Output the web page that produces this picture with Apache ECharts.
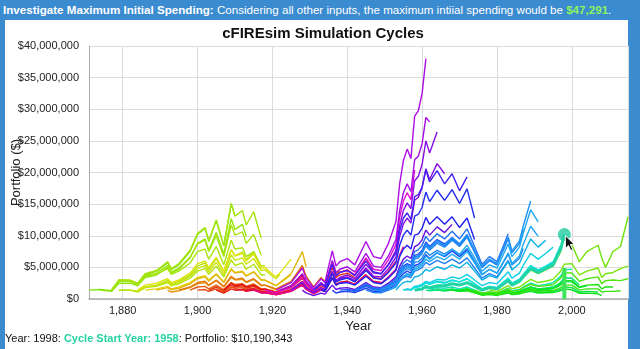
<!DOCTYPE html>
<html>
<head>
<meta charset="utf-8">
<script src="https://cdn.jsdelivr.net/npm/echarts@6/dist/echarts.min.js"></script>
<style>
html,body{margin:0;padding:0;width:640px;height:349px;overflow:hidden;background:#3b8bd0;font-family:"Liberation Sans",Arial,Helvetica,sans-serif;}
#head{position:absolute;left:3px;top:3px;font-size:11.6px;color:#fff;white-space:nowrap;}
#head .amt{color:#8df25c;font-weight:bold}
#panel{position:absolute;left:5px;top:20px;width:623px;height:329px;background:#fff;}
#chart{position:absolute;left:0;top:0;width:640px;height:349px;}
#foot{position:absolute;left:5px;top:332px;font-size:11px;color:#111;white-space:nowrap;}
#foot b{color:#25d3a2}
</style>
</head>
<body>
<div id="head"><b>Investigate Maximum Initial Spending:</b> Considering all other inputs, the maximum intiial spending would be <span class="amt">$47,291</span>.</div>
<div id="panel"></div>
<div id="chart"></div>
<div id="foot">Year: 1998: <b>Cycle Start Year: 1958</b>: Portfolio: $10,190,343</div>
<script>
// sample years (x), each cycle's values ($ millions) start at its own start year
var sampleYears = [1871,1874,1877,1879,1882,1884,1886,1889,1892,1893,1895,1898,1900,1902,1903,1905,1907,1909,1910,1912,
  1913,1915,1917,1918,1920,1921,1922,1925,1928,1929,1931,1933,1934,1936,1937,1938,1940,1942,1945,1947,
  1949,1951,1953,1954,1955,1956,1957,1958,1959,1960,1961,1962,1964,1966,1968,1970,1972,1974,1976,1978,
  1980,1983,1984,1986,1987,1989,1991,1993,1995,1997,1998,2000,2002,2004,2007,2008,2009,2011,2013,2015];

var c1871 = [1.4,1.5,1.3,2.8,2.9,2.4,3.8,4.4,5.7,4.7,5.4,7.5,10.2,11.2,9.1,12.4,8.4,15.1,13.1];
var c1874 = [1.4,1.2,2.5,2.5,2.1,3.4,3.8,5.0,4.1,4.7,6.5,8.8,9.5,7.7,10.5,7.1,12.7,11.0,11.8,9.9];
var c1877a = [1.4,3.0,3.0,2.5,4.0,4.5,5.9,4.8,5.6,7.7,10.4,11.3,9.2,12.5,8.4,15.0,13.1,14.0,11.7,13.8,9.6];
var c1877b = [1.4,3.0,2.9,2.4,3.7,4.1,5.3,4.3,4.9,6.6,8.7,9.3,7.5,10.0,6.7,11.7,10.1,10.6,8.8,10.2,6.9];
var c1877c = [1.4,2.9,2.8,2.3,3.6,3.9,4.8,3.9,4.4,5.7,7.5,7.9,6.3,8.3,5.4,9.3,7.9,8.1,6.7,7.5,5.0];
var c1879a = [1.4,1.4,1.2,1.9,2.2,2.9,2.4,2.8,3.8,5.2,5.7,4.7,6.4,4.4,7.8,6.8,7.4,6.2,7.4,5.2,5.3];
var c1879b = [1.4,1.4,1.1,1.8,2.0,2.6,2.1,2.4,3.3,4.4,4.8,3.9,5.2,3.5,6.2,5.3,5.7,4.7,5.5,3.8,3.8];
var c1882 = [1.4,1.2,1.9,2.1,2.7,2.2,2.6,3.6,4.8,5.3,4.3,5.8,3.9,7.0,6.1,6.5,5.5,6.4,4.5,4.6,3.6,3.2,3.9];
var c1884 = [1.4,2.2,2.5,3.2,2.6,3.0,4.1,5.6,6.0,4.9,6.6,4.4,7.8,6.8,7.2,6.0,7.1,4.9,5.0,3.9,3.5,4.1,6.3];
var c1886 = [1.4,1.6,2.0,1.6,1.9,2.6,3.4,3.7,3.0,4.0,2.7,4.8,4.2,4.4,3.7,4.3,3.0,3.0,2.4,2.1,2.5,3.8];
var c1889 = [1.4,1.8,1.5,1.7,2.4,3.2,3.5,2.8,3.9,2.6,4.7,4.1,4.3,3.6,4.3,3.0,3.0,2.4,2.1,2.6,4.0,7.5,5.1];
var c1892 = [1.4,1.1,1.3,1.8,2.4,2.6,2.1,2.9,1.9,3.4,3.0,3.1,2.6,3.1,2.1,2.2,1.7,1.5,1.8,2.7,5.1,3.5,1.9];
var c1895 = [1.4,1.9,2.6,2.8,2.2,3.0,2.0,3.6,3.1,3.3,2.7,3.2,2.2,2.2,1.8,1.6,1.9,2.8,5.3,3.6,1.9,3.4,2.8];
var c1898 = [1.4,1.9,2.0,1.6,2.2,1.5,2.6,2.3,2.4,2.0,2.4,1.6,1.6,1.3,1.1,1.4,2.1,3.9,2.6,1.4,2.5,2.0,5.8,3.9,4.5];
var c1900 = [1.4,1.5,1.2,1.6,1.1,1.9,1.7,1.8,1.5,1.7,1.2,1.2,0.95,0.84,1.0,1.5,2.8,1.9,1.0,1.8,1.5,4.2,2.8,3.2,3.4];
var c1903 = [1.4,1.9,1.3,2.2,1.9,2.1,1.7,2.0,1.4,1.4,1.1,1.0,1.2,1.8,3.3,2.3,1.2,2.1,1.8,5.0,3.4,3.8,4.1,3.4];
var c1905 = [1.4,0.93,1.6,1.4,1.5,1.3,1.5,1.0,1.0,0.8,0.7,0.83,1.3,2.3,1.6,0.85,1.5,1.2,3.4,2.3,2.6,2.8,2.3,3.9];
var c1907 = [1.4,2.5,2.1,2.3,1.9,2.2,1.5,1.6,1.2,1.1,1.3,2.0,3.7,2.5,1.4,2.4,1.9,5.5,3.7,4.2,4.6,3.8,6.4,4.6];
var c1910 = [1.4,1.5,1.2,1.4,1.0,1.0,0.8,0.7,0.82,1.2,2.3,1.6,0.85,1.5,1.2,3.4,2.3,2.6,2.8,2.3,3.8,2.8,2.6];
var c1913 = [1.4,1.6,1.1,1.1,0.9,0.8,0.95,1.4,2.7,1.8,1.0,1.7,1.4,4.1,2.7,3.1,3.4,2.8,4.7,3.4,3.2,4.4,6.0];
var c1915 = [1.4,0.96,0.97,0.77,0.67,0.8,1.2,2.2,1.5,0.82,1.4,1.2,3.3,2.2,2.5,2.7,2.3,3.7,2.7,2.5,3.5,4.7,7.0,8.3];
var c1918 = [1.4,1.1,1.0,1.2,1.8,3.4,2.4,1.3,2.3,1.9,5.4,3.7,4.2,4.5,3.8,6.5,4.7,4.5,6.2,8.6,12.9,15.5,16.8,15.7,20.4];
var c1921 = [1.4,1.7,2.6,4.9,3.3,1.8,3.2,2.6,7.6,5.2,5.9,6.4,5.4,9.1,6.7,6.4,8.8,12.2,18.2,21.9,23.7,22.2,28.9,29.8,32.5,38.0];
var c1922 = [1.4,2.1,4.0,2.8,1.5,2.6,2.1,6.1,4.2,4.7,5.1,4.3,7.2,5.2,5.0,6.8,9.4,14.0,16.8,18.2,17.0,22.0,22.6,24.6,28.7,28.0];
var c1925a = [1.4,2.7,1.9,1.0,1.8,1.5,4.4,3.0,3.4,3.8,3.2,5.5,4.1,4.0,5.5,7.7,11.6,14.0,15.2,14.3,18.7,19.4,21.3,25.0,23.1,26.4];
var c1925b = [1.4,2.6,1.8,1.0,1.7,1.4,4.1,2.8,3.2,3.5,2.9,4.9,3.6,3.5,4.8,6.6,9.9,11.9,12.8,12.0,15.6,16.1,17.6,20.6,18.9,21.4,19.8];
var c1928 = [1.4,0.96,0.53,0.92,0.76,2.2,1.5,1.7,1.8,1.5,2.6,1.9,1.8,2.5,3.5,5.2,6.3,6.8,6.4,8.3,8.6,9.4,10.9,10.1,11.4,10.5,11.8];
var c1931 = [1.4,2.4,2.0,5.5,3.7,4.2,4.5,3.7,6.0,4.3,4.0,5.4,7.3,10.8,12.8,13.6,12.6,16.2,16.5,17.7,20.4,18.5,20.3,18.2,19.8,17.1,19.3];
var c1933 = [1.4,1.2,3.3,2.2,2.5,2.6,2.2,3.6,2.6,2.4,3.3,4.5,6.7,7.9,8.5,7.9,10.1,10.3,11.2,12.9,11.8,13.0,11.8,13.0,11.3,12.8,9.4];
var c1934 = [1.4,4.0,2.7,3.0,3.3,2.7,4.5,3.3,3.1,4.2,5.7,8.5,10.1,10.9,10.1,13.1,13.4,14.5,16.9,15.4,17.2,15.6,17.3,15.1,17.4,12.8];
var c1936 = [1.4,0.95,1.1,1.2,1.0,1.7,1.2,1.2,1.6,2.2,3.4,4.0,4.4,4.1,5.3,5.5,6.0,7.0,6.4,7.3,6.7,7.6,6.7,7.8,5.9,3.9];
var c1938 = [1.4,1.5,1.3,2.2,1.6,1.5,2.1,2.9,4.3,5.2,5.6,5.3,6.9,7.1,7.7,9.0,8.3,9.4,8.7,9.7,8.7,10.1,7.6,5.1,6.1];
var c1940 = [1.4,1.2,2.0,1.5,1.4,2.0,2.7,4.1,4.9,5.4,5.0,6.6,6.8,7.4,8.7,8.0,9.1,8.4,9.5,8.5,9.9,7.5,5.0,6.1,5.4];
var c1942 = [1.4,2.4,1.7,1.7,2.3,3.2,4.7,5.7,6.2,5.8,7.5,7.8,8.5,9.9,9.1,10.3,9.5,10.7,9.5,11.1,8.3,5.5,6.7,5.9,10.3];
var c1945 = [1.4,1.0,0.98,1.4,1.9,2.8,3.4,3.6,3.4,4.4,4.6,5.0,5.8,5.4,6.1,5.6,6.3,5.6,6.5,4.9,3.3,4.0,3.5,6.1,4.7];
var c1947a = [1.4,1.3,1.9,2.6,3.9,4.7,5.1,4.8,6.3,6.5,7.2,8.4,7.7,8.8,8.2,9.3,8.3,9.8,7.4,5.0,6.1,5.4,9.5,7.3,8.8,11.1];
var c1947b = [1.4,1.3,1.8,2.5,3.7,4.4,4.8,4.5,5.8,5.9,6.5,7.5,6.9,7.7,7.1,7.9,6.9,8.0,6.0,3.9,4.7,4.1,7.1,5.4,6.4,8.0];
var c1949 = [1.4,2.0,2.7,4.1,4.9,5.3,5.0,6.6,6.8,7.4,8.7,8.1,9.2,8.5,9.7,8.7,10.2,7.7,5.2,6.3,5.6,9.8,7.6,9.2,11.5,15.5];
var c1951a = [1.4,2.0,2.9,3.5,3.9,3.6,4.7,4.9,5.4,6.3,5.9,6.7,6.2,7.1,6.3,7.5,5.7,3.8,4.7,4.1,7.3,5.6,6.8,8.6,11.5,9.9];
var c1951b = [1.4,2.0,3.0,3.6,4.0,3.8,5.0,5.2,5.7,6.8,6.3,7.3,6.8,7.9,7.1,8.5,6.5,4.4,5.4,4.9,8.7,6.7,8.2,10.4,14.1,12.2];
var c1953 = [1.4,2.1,2.6,2.8,2.7,3.5,3.6,4.0,4.7,4.4,5.1,4.7,5.4,4.9,5.8,4.4,3.0,3.7,3.3,5.9,4.6,5.6,7.0,9.5,8.2,9.3];
var c1955a = [1.4,1.5,1.4,1.9,2.0,2.2,2.6,2.4,2.8,2.6,3.0,2.7,3.2,2.4,1.6,2.0,1.8,3.2,2.5,3.1,3.8,5.2,4.5,5.1,5.7];
var c1955b = [1.4,1.6,1.5,2.0,2.1,2.3,2.8,2.6,3.1,3.0,3.5,3.2,3.9,3.0,2.1,2.6,2.4,4.3,3.3,4.1,5.3,7.2,6.3,7.2,8.2];
var c1957 = [1.4,1.8,1.9,2.1,2.5,2.3,2.7,2.5,2.9,2.7,3.2,2.4,1.6,2.0,1.8,3.3,2.5,3.1,3.9,5.3,4.6,5.2,5.9,8.5];
var c1958 = [1.4,1.5,1.6,2.0,1.8,2.1,2.1,2.4,2.2,2.6,2.0,1.4,1.8,1.6,2.9,2.2,2.8,3.5,4.8,4.2,4.8,5.4,7.9,10.19];
var c1959 = [1.4,1.5,1.8,1.6,1.8,1.7,1.9,1.6,1.9,1.4,0.93,1.1,0.98,1.7,1.3,1.5,1.9,2.5,2.1,2.3,2.6,3.6,4.6,4.7];
var c1961 = [1.4,1.3,1.4,1.3,1.4,1.3,1.5,1.1,0.71,0.85,0.74,1.3,0.97,1.1,1.4,1.9,1.6,1.7,1.9,2.6,3.3,3.3];
var c1962 = [1.4,1.6,1.4,1.6,1.4,1.6,1.2,0.76,0.9,0.78,1.3,1.0,1.2,1.5,1.9,1.6,1.7,1.9,2.6,3.3,3.3,2.2];
var c1964 = [1.4,1.3,1.4,1.2,1.4,1.0,0.66,0.79,0.68,1.1,0.86,1.0,1.2,1.6,1.3,1.5,1.6,2.2,2.7,2.7,1.8,2.1];
var c1966 = [1.4,1.5,1.3,1.5,1.1,0.67,0.78,0.66,1.1,0.79,0.9,1.1,1.4,1.1,1.1,1.2,1.5,1.9,1.8,1.1,1.2,1.1];
var c1968 = [1.4,1.2,1.3,0.96,0.61,0.7,0.59,0.94,0.71,0.8,0.97,1.2,0.95,0.99,1.0,1.31,1.58,1.46,0.9,0.93,0.82,0.52];
var c1970 = [1.4,1.6,1.2,0.76,0.9,0.77,1.3,0.97,1.1,1.4,1.8,1.5,1.6,1.7,2.4,2.9,2.9,1.9,2.2,2.3,1.6,1.9,1.9];
var c1972 = [1.4,1.0,0.66,0.77,0.65,1.1,0.81,0.93,1.1,1.5,1.2,1.3,1.3,1.8,2.2,2.2,1.4,1.6,1.6,1.1,1.2,1.2,1.3];
var c1974 = [1.4,0.92,1.1,0.95,1.6,1.2,1.4,1.8,2.3,2.0,2.1,2.3,3.3,4.1,4.1,2.8,3.2,3.5,2.4,2.9,3.0,2.9,3.2];
var c1976 = [1.4,1.7,1.6,2.8,2.2,2.7,3.4,4.6,4.0,4.6,5.2,7.5,10.0,8.6,5.9,7.5,8.5,6.5,5.0,7.5,8.3,13.0];
var c1978 = [1.4,1.2,2.1,1.6,1.9,2.3,3.1,2.6,2.8,3.1,4.4,5.5,5.6,3.8,4.4,4.9,3.4,4.0,4.2,4.8,5.2];

var cycles = [
  [1871,c1871],[1874,c1874],[1877,c1877a],[1877,c1877b],[1877,c1877c],[1879,c1879a],[1879,c1879b],[1882,c1882],
  [1884,c1884],[1886,c1886],[1889,c1889],[1892,c1892],[1895,c1895],[1898,c1898],[1900,c1900],[1903,c1903],
  [1905,c1905],[1907,c1907],[1910,c1910],[1913,c1913],[1915,c1915],[1918,c1918],[1921,c1921],[1922,c1922],
  [1925,c1925a],[1925,c1925b],[1928,c1928],[1931,c1931],[1933,c1933],[1934,c1934],[1936,c1936],[1938,c1938],
  [1940,c1940],[1942,c1942],[1945,c1945],[1947,c1947a],[1947,c1947b],[1949,c1949],[1951,c1951a],[1951,c1951b],
  [1953,c1953],[1955,c1955a],[1955,c1955b],[1957,c1957],[1958,c1958],[1959,c1959],[1961,c1961],[1962,c1962],
  [1964,c1964],[1966,c1966],[1968,c1968],[1970,c1970],[1972,c1972],[1974,c1974],[1976,c1976],[1978,c1978]
];

// hovered point
var hoverStart = 1958;
var hoverYear = 1998;
var hoverValue = 10.190343;
var hoverBar = [0, 4.9];

// colour by start year (hue wheel)
var hueStops = [[1871,88],[1880,72],[1886,56],[1892,38],[1898,22],[1905,6],[1912,-15],[1918,-55],[1921,-75],
  [1928,-95],[1933,-120],[1940,-140],[1950,-155],[1956,-178],[1960,-200],[1966,-225],[1976,-268],[1980,-275]];
function hueFor(y){
  for(var i=0;i<hueStops.length-1;i++){
    var a=hueStops[i], b=hueStops[i+1];
    if(y>=a[0] && y<=b[0]){
      var h = a[1] + (b[1]-a[1])*(y-a[0])/(b[0]-a[0]);
      return ((h%360)+360)%360;
    }
  }
  return 88;
}
function colorFor(y){
  var h = hueFor(y);
  var l = (h > 195 && h < 262) ? 54 : 47;
  return 'hsl(' + h.toFixed(0) + ',90%,' + l + '%)';
}

function toPairs(start, vals){
  var i0 = sampleYears.indexOf(start);
  return vals.map(function(v,j){ return [sampleYears[i0+j], v]; });
}

var series = cycles.map(function(c){
  return {
    type:'line', data: toPairs(c[0], c[1]), showSymbol:false, silent:true,
    lineStyle:{width:1.4, color: colorFor(c[0])}, z:2
  };
});
// highlighted cycle
series.push({
  type:'line', data: toPairs(hoverStart, c1958), showSymbol:false, silent:true,
  lineStyle:{width:3, color:'#22d3a6'}, z:3
});
series.push({
  type:'line', data: hoverBar.map(function(v){ return [hoverYear, v]; }), showSymbol:false, silent:true,
  lineStyle:{width:4, color:'#3fe35a'}, z:3
});
series.push({
  type:'scatter', data:[[hoverYear, hoverValue]], symbolSize:13, silent:true,
  itemStyle:{color:'#1fcca0'}, z:4
});

var chart = echarts.init(document.getElementById('chart'));
chart.setOption({
  animation:false,
  title:{text:'cFIREsim Simulation Cycles', left:318, top:21, textAlign:'center',
    textStyle:{fontSize:15, fontWeight:'bold', color:'#111', fontFamily:'Liberation Sans'}},
  grid:{left:89, right:12, top:46, bottom:50, containLabel:false, outerBoundsMode:'none'},
  xAxis:{
    type:'value', min:1871, max:2015, splitNumber:7,
    name:'Year', nameLocation:'middle', nameGap:21, nameMoveOverlap:false,
    nameTextStyle:{fontSize:13, color:'#222', fontFamily:'Liberation Sans'},
    axisLine:{lineStyle:{color:'#aaa', width:1.5}},
    axisTick:{show:false},
    axisLabel:{fontSize:11, color:'#222', margin:6, showMinLabel:false, showMaxLabel:false, fontFamily:'Liberation Sans'},
    splitLine:{show:true, lineStyle:{color:'#dcdcdc'}}
  },
  yAxis:{
    type:'value', min:0, max:40, interval:5,
    name:'Portfolio ($)', nameLocation:'middle', nameGap:66, nameRotate:90, nameMoveOverlap:false,
    nameTextStyle:{fontSize:13, color:'#222', fontFamily:'Liberation Sans'},
    axisLine:{show:true, lineStyle:{color:'#aaa'}},
    axisTick:{show:false},
    axisLabel:{fontSize:11, color:'#222', margin:10, fontFamily:'Liberation Sans',
      formatter:function(v){ return '$' + (v*1000000).toLocaleString('en-US'); }},
    splitLine:{lineStyle:{color:'#dcdcdc'}}
  },
  series: series
});

// mouse pointer drawn at the hovered point
var p = chart.convertToPixel({gridIndex:0}, [hoverYear, hoverValue]);
chart.setOption({graphic:[{
  type:'polygon', x:p[0]+1, y:p[1]+1, z:100,
  shape:{points:[[0,0],[0,13],[3,10],[5.5,15],[7.5,14],[5,9],[9,9]]},
  style:{fill:'#111', stroke:'#fff', lineWidth:1}
}]});
</script>
</body>
</html>
